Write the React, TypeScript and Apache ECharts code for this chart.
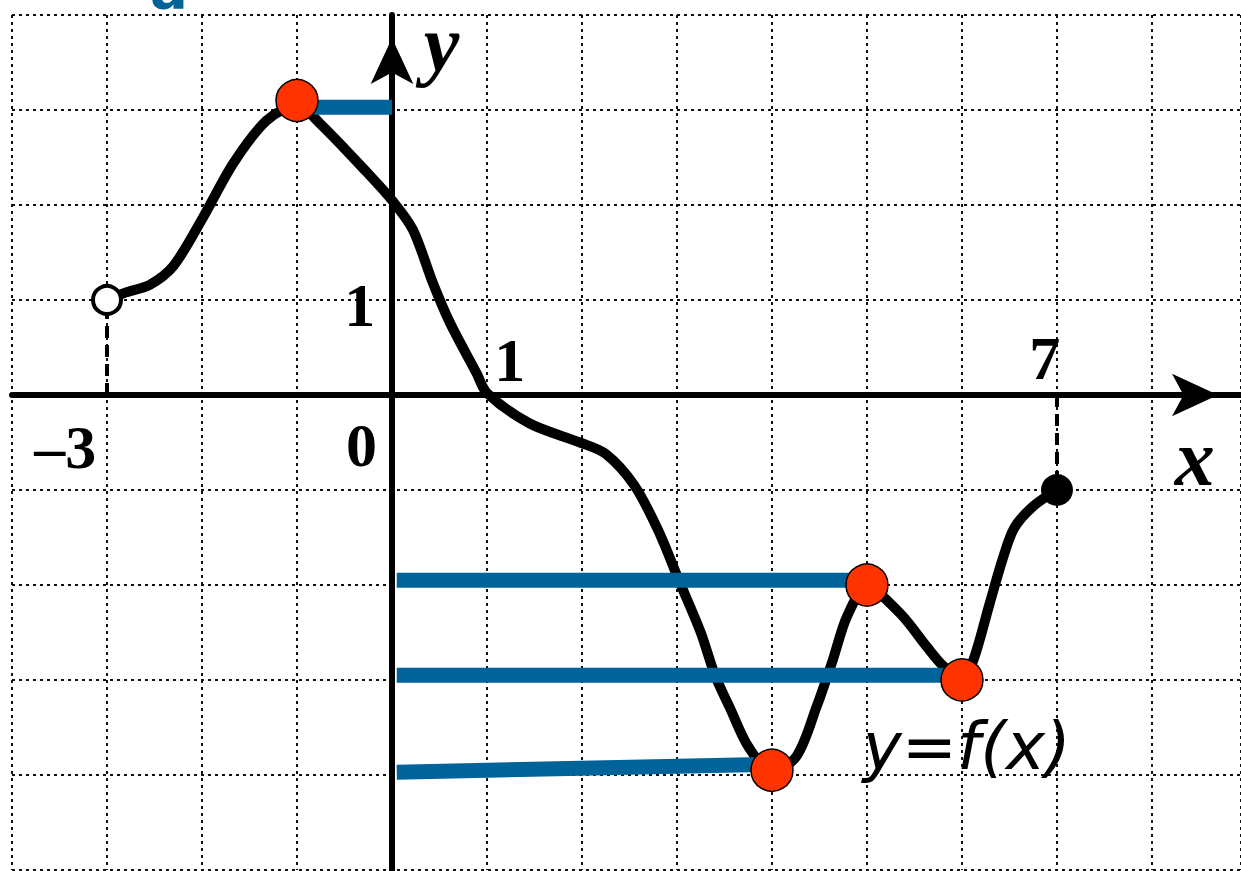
import React, { useEffect, useRef } from 'react';
import * as echarts from 'echarts';

// Curve y = f(x)
const curveX = [-3, -2.8, -2.55, -2.3, -2.0, -1.67, -1.32, -1.0, -0.76, -0.26, 0, 0.22, 0.43, 0.61, 0.89, 1.0, 1.45, 1.98, 2.25, 2.55, 2.8, 3.02, 3.25, 3.4, 3.56, 3.75, 4.0, 4.26, 4.47, 4.64, 4.79, 5.0, 5.35, 5.63, 5.8, 6.0, 6.12, 6.29, 6.43, 6.55, 6.75, 7.0];
const curveY = [1, 1.08, 1.16, 1.36, 1.85, 2.44, 2.89, 3.05, 2.86, 2.34, 2.05, 1.74, 1.18, 0.76, 0.23, 0.02, -0.3, -0.5, -0.62, -0.95, -1.42, -1.95, -2.5, -2.95, -3.3, -3.7, -3.97, -3.8, -3.28, -2.79, -2.33, -2.02, -2.3, -2.65, -2.85, -3.0, -2.79, -2.2, -1.72, -1.4, -1.17, -1.0];

// Extremum points (red)
const extremaX = [-1, 4, 5, 6];
const extremaY = [3.1, -3.95, -2.0, -3.0];

// Blue level lines
const levelStartX = [-1, 0.05, 0.05, 0.05];
const levelStartY = [3.03, -1.95, -2.95, -3.97];
const levelEndX = [0, 5, 6, 3.9];
const levelEndY = [3.03, -1.95, -2.95, -3.89];

// Domain end points
const openEnd = [-3, 1];
const closedEnd = [7, -1];

// Texts
const tickTexts = ['1', '1', '0', '–3', '7'];
const tickAnchorsX = [-0.34, 1.24, -0.32, -3.44, 6.87];
const tickAnchorsY = [0.95, 0.37, -0.53, -0.55, 0.39];
const axisNames = ['x', 'y'];
const axisNameX = [8.45, 0.52];
const axisNameY = [-0.66, 3.7];
const funcName = 'y=f(x)';
const funcAnchor = [6.05, -3.7];

const BLUE = '#00649a';
const RED = '#ff3300';

export default function App() {
  const ref = useRef<HTMLDivElement>(null);
  useEffect(() => {
    if (!ref.current) return;
    const chart = echarts.init(ref.current, undefined, { renderer: 'svg' });
    const curveData = curveX.map((x, i) => [x, curveY[i]]);
    const levelSeries = levelStartX.map((x, i) => ({
      type: 'line',
      data: [[x, levelStartY[i]], [levelEndX[i], levelEndY[i]]],
      showSymbol: false,
      symbol: 'none',
      lineStyle: { color: BLUE, width: 15, cap: 'butt' },
      z: 4,
      silent: true,
    }));
    const numFont = { fontFamily: '"Liberation Serif", "DejaVu Serif", serif', fontWeight: 'bold', fontSize: 62, color: '#000' };
    const option: any = {
      animation: false,
      backgroundColor: '#ffffff',
      grid: { left: 12, top: 15, width: 1229, height: 855, containLabel: false },
      xAxis: {
        type: 'value', min: -4, max: 8.937, interval: 1,
        axisLine: { show: true, onZero: true, lineStyle: { color: '#000', width: 6 }, symbol: ['none', 'arrow'], symbolSize: [32, 46], symbolOffset: [0, -23] },
        axisTick: { show: false }, axisLabel: { show: false },
        splitLine: { show: true, lineStyle: { color: '#111', width: 2, type: [3, 4] } },
      },
      yAxis: {
        type: 'value', min: -5, max: 4, interval: 1,
        axisLine: { show: true, onZero: true, lineStyle: { color: '#000', width: 6 }, symbol: ['none', 'arrow'], symbolSize: [32, 46], symbolOffset: [0, -23] },
        axisTick: { show: false }, axisLabel: { show: false },
        splitLine: { show: true, lineStyle: { color: '#111', width: 2, type: [3, 4] } },
      },
      series: [
        {
          type: 'line', data: curveData, smooth: 0.3, showSymbol: false, symbol: 'none',
          lineStyle: { color: '#000', width: 10 }, z: 3, silent: true,
        },
        {
          type: 'line', data: [[openEnd[0], 0], [openEnd[0], openEnd[1]]], showSymbol: false, symbol: 'none',
          lineStyle: { color: '#000', width: 4, type: [12, 7] }, z: 2, silent: true,
        },
        {
          type: 'line', data: [[closedEnd[0], 0], [closedEnd[0], closedEnd[1]]], showSymbol: false, symbol: 'none',
          lineStyle: { color: '#000', width: 4, type: [12, 7] }, z: 2, silent: true,
        },
        ...levelSeries,
        {
          type: 'scatter', data: [openEnd], symbol: 'circle', symbolSize: 28,
          itemStyle: { color: '#fff', borderColor: '#000', borderWidth: 4, opacity: 1 }, z: 5, silent: true,
        },
        {
          type: 'scatter', data: [closedEnd], symbol: 'circle', symbolSize: 32,
          itemStyle: { color: '#000', opacity: 1 }, z: 5, silent: true,
        },
        {
          type: 'scatter', data: extremaX.map((x, i) => [x, extremaY[i]]), symbol: 'circle', symbolSize: 42,
          itemStyle: { color: RED, borderColor: '#000', borderWidth: 1.5, opacity: 1 }, z: 6, silent: true,
        },
        {
          type: 'scatter', symbolSize: 0, z: 7, silent: true, itemStyle: { opacity: 1 },
          data: tickTexts.map((t, i) => ({ value: [tickAnchorsX[i], tickAnchorsY[i]], name: t })),
          label: { show: true, position: 'inside', formatter: (p: any) => p.name, ...numFont },
        },
        {
          type: 'scatter', symbolSize: 0, z: 7, silent: true, itemStyle: { opacity: 1 },
          data: axisNames.map((t, i) => ({ value: [axisNameX[i], axisNameY[i]], name: t })),
          label: { show: true, position: 'inside', formatter: (p: any) => p.name, fontFamily: '"Liberation Serif", "DejaVu Serif", serif', fontStyle: 'italic', fontWeight: 'bold', fontSize: 80, color: '#000' },
        },
        {
          type: 'scatter', symbolSize: 0, z: 7, silent: true, itemStyle: { opacity: 1 },
          data: [{ value: funcAnchor, name: funcName }],
          label: { show: true, position: 'inside', formatter: (p: any) => p.name, fontFamily: '"DejaVu Sans", Verdana, sans-serif', fontStyle: 'italic', fontSize: 66, color: '#000' },
        },
      ],
      graphic: [
        { type: 'text', left: 150, top: -40, z: 10, style: { text: 'a', font: 'bold 56px "DejaVu Sans"', fill: BLUE } },
      ],
    };
    chart.setOption(option);
    return () => chart.dispose();
  }, []);
  return <div ref={ref} style={{ position: 'fixed', left: 0, top: 0, width: 1241, height: 871 }} />;
}
